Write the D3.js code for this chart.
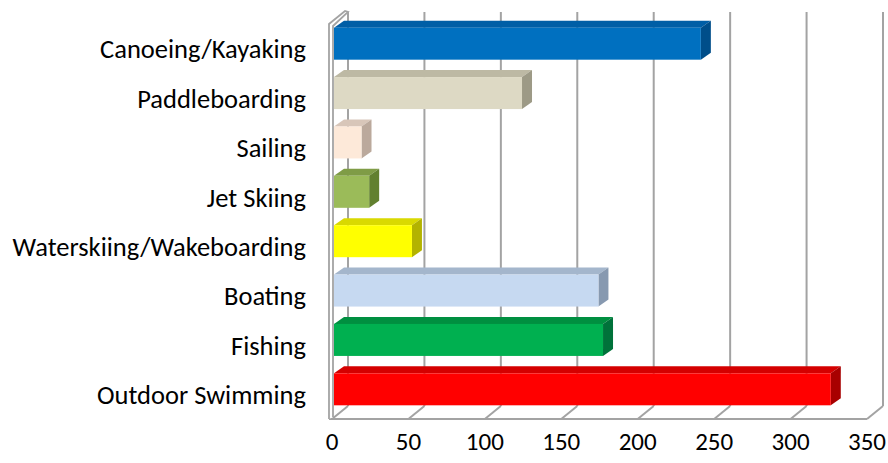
<!DOCTYPE html>
<html>
<head>
<meta charset="utf-8">
<script src="https://cdn.jsdelivr.net/npm/d3@7"></script>
<style>
  html, body { margin: 0; padding: 0; background: #ffffff; }
  svg { display: block; }
  text { font-family: Carlito, Calibri, Lato, "Open Sans", sans-serif; fill: #000; }
</style>
</head>
<body>
<svg id="chart" width="888" height="463"></svg>
<script>
// Participants by water activity
const categories = [
  "Canoeing/Kayaking",
  "Paddleboarding",
  "Sailing",
  "Jet Skiing",
  "Waterskiing/Wakeboarding",
  "Boating",
  "Fishing",
  "Outdoor Swimming"
];
const values = [240, 123, 18, 23, 51, 173, 176, 325];
const tickValues = [0, 50, 100, 150, 200, 250, 300, 350];

// face colours per bar: front, top, side
const frontColors = ["#0070c0", "#ddd9c4", "#fde9d9", "#9bbb59", "#ffff00", "#c6d9f1", "#00b050", "#ff0000"];
const topColors   = ["#005ea6", "#bdb9a4", "#d8c6b9", "#7f9c46", "#d9d900", "#a4b6cc", "#008f40", "#d40000"];
const sideColors  = ["#004e8a", "#9d9a86", "#bba99c", "#62802f", "#b3b300", "#8799b0", "#00723a", "#a80000"];

const svg = d3.select("#chart");

// front-plane value scale and wall depth offset
const x = d3.scaleLinear().domain([0, 350]).range([332, 867]);
const depth = { dx: 16, dy: -13 };
const floorY = 419;
const wallTop = 12;

// category rows (front-plane band)
const y = d3.scaleBand().domain(categories).range([24, 419]).paddingInner(0).paddingOuter(0);

const gridColor = "#a3a3a3";

// back wall gridlines
const g = svg.append("g");
g.selectAll("line.grid")
  .data(tickValues)
  .join("line")
  .attr("class", "grid")
  .attr("x1", d => x(d) + depth.dx)
  .attr("x2", d => x(d) + depth.dx)
  .attr("y1", wallTop)
  .attr("y2", floorY + depth.dy)
  .attr("stroke", gridColor)
  .attr("stroke-width", 2);

// floor: diagonals from each front tick back to the wall
g.selectAll("line.floor")
  .data(tickValues)
  .join("line")
  .attr("class", "floor")
  .attr("x1", d => x(d))
  .attr("y1", floorY)
  .attr("x2", d => x(d) + depth.dx)
  .attr("y2", floorY + depth.dy)
  .attr("stroke", gridColor)
  .attr("stroke-width", 2);

// floor front edge
g.append("line")
  .attr("x1", x(0) - 3).attr("x2", x(350))
  .attr("y1", floorY).attr("y2", floorY)
  .attr("stroke", gridColor).attr("stroke-width", 2);

// left side wall (thin slab)
const lx = x(0) - 3;
g.append("path")
  .attr("d", `M${lx},${floorY} V${wallTop + 12} L${lx + depth.dx},${wallTop - 1} L${x(0) + depth.dx},${wallTop} L${x(0) + 1},${wallTop + 14} V${floorY - 2}`)
  .attr("fill", "#ffffff")
  .attr("stroke", gridColor)
  .attr("stroke-width", 1.8);

// 3D bars
const barH = 32;
const bd = { dx: 10, dy: -7 };
const x0 = x(0) + 2;
const rowCenter = (c) => y(c) + y.bandwidth() / 2 - 5;

const bars = svg.append("g")
  .selectAll("g.bar")
  .data(categories.map((c, i) => ({ c, v: values[i], i })))
  .join("g")
  .attr("class", "bar");

bars.each(function(d) {
  const gg = d3.select(this);
  const top = rowCenter(d.c) - barH / 2;
  const bot = top + barH;
  const x1 = x0 + (x(d.v) - x(0));
  // top face
  gg.append("path")
    .attr("d", `M${x0},${top} L${x1},${top} L${x1 + bd.dx},${top + bd.dy} L${x0 + bd.dx},${top + bd.dy} Z`)
    .attr("fill", topColors[d.i]);
  // side face
  gg.append("path")
    .attr("d", `M${x1},${top} L${x1 + bd.dx},${top + bd.dy} L${x1 + bd.dx},${bot + bd.dy} L${x1},${bot} Z`)
    .attr("fill", sideColors[d.i]);
  // front face
  gg.append("rect")
    .attr("x", x0)
    .attr("y", top)
    .attr("width", x1 - x0)
    .attr("height", barH)
    .attr("fill", frontColors[d.i]);
});

// category labels
svg.append("g")
  .selectAll("text")
  .data(categories)
  .join("text")
  .attr("x", 306)
  .attr("y", d => y(d) + y.bandwidth() / 2 + 0.5)
  .attr("dy", "0.35em")
  .attr("text-anchor", "end")
  .attr("font-size", 26.5)
  .text(d => d);

// value axis labels
svg.append("g")
  .selectAll("text")
  .data(tickValues)
  .join("text")
  .attr("x", d => x(d))
  .attr("y", 441)
  .attr("dy", "0.35em")
  .attr("text-anchor", "middle")
  .attr("font-size", 25)
  .text(d => d);
</script>
</body>
</html>
